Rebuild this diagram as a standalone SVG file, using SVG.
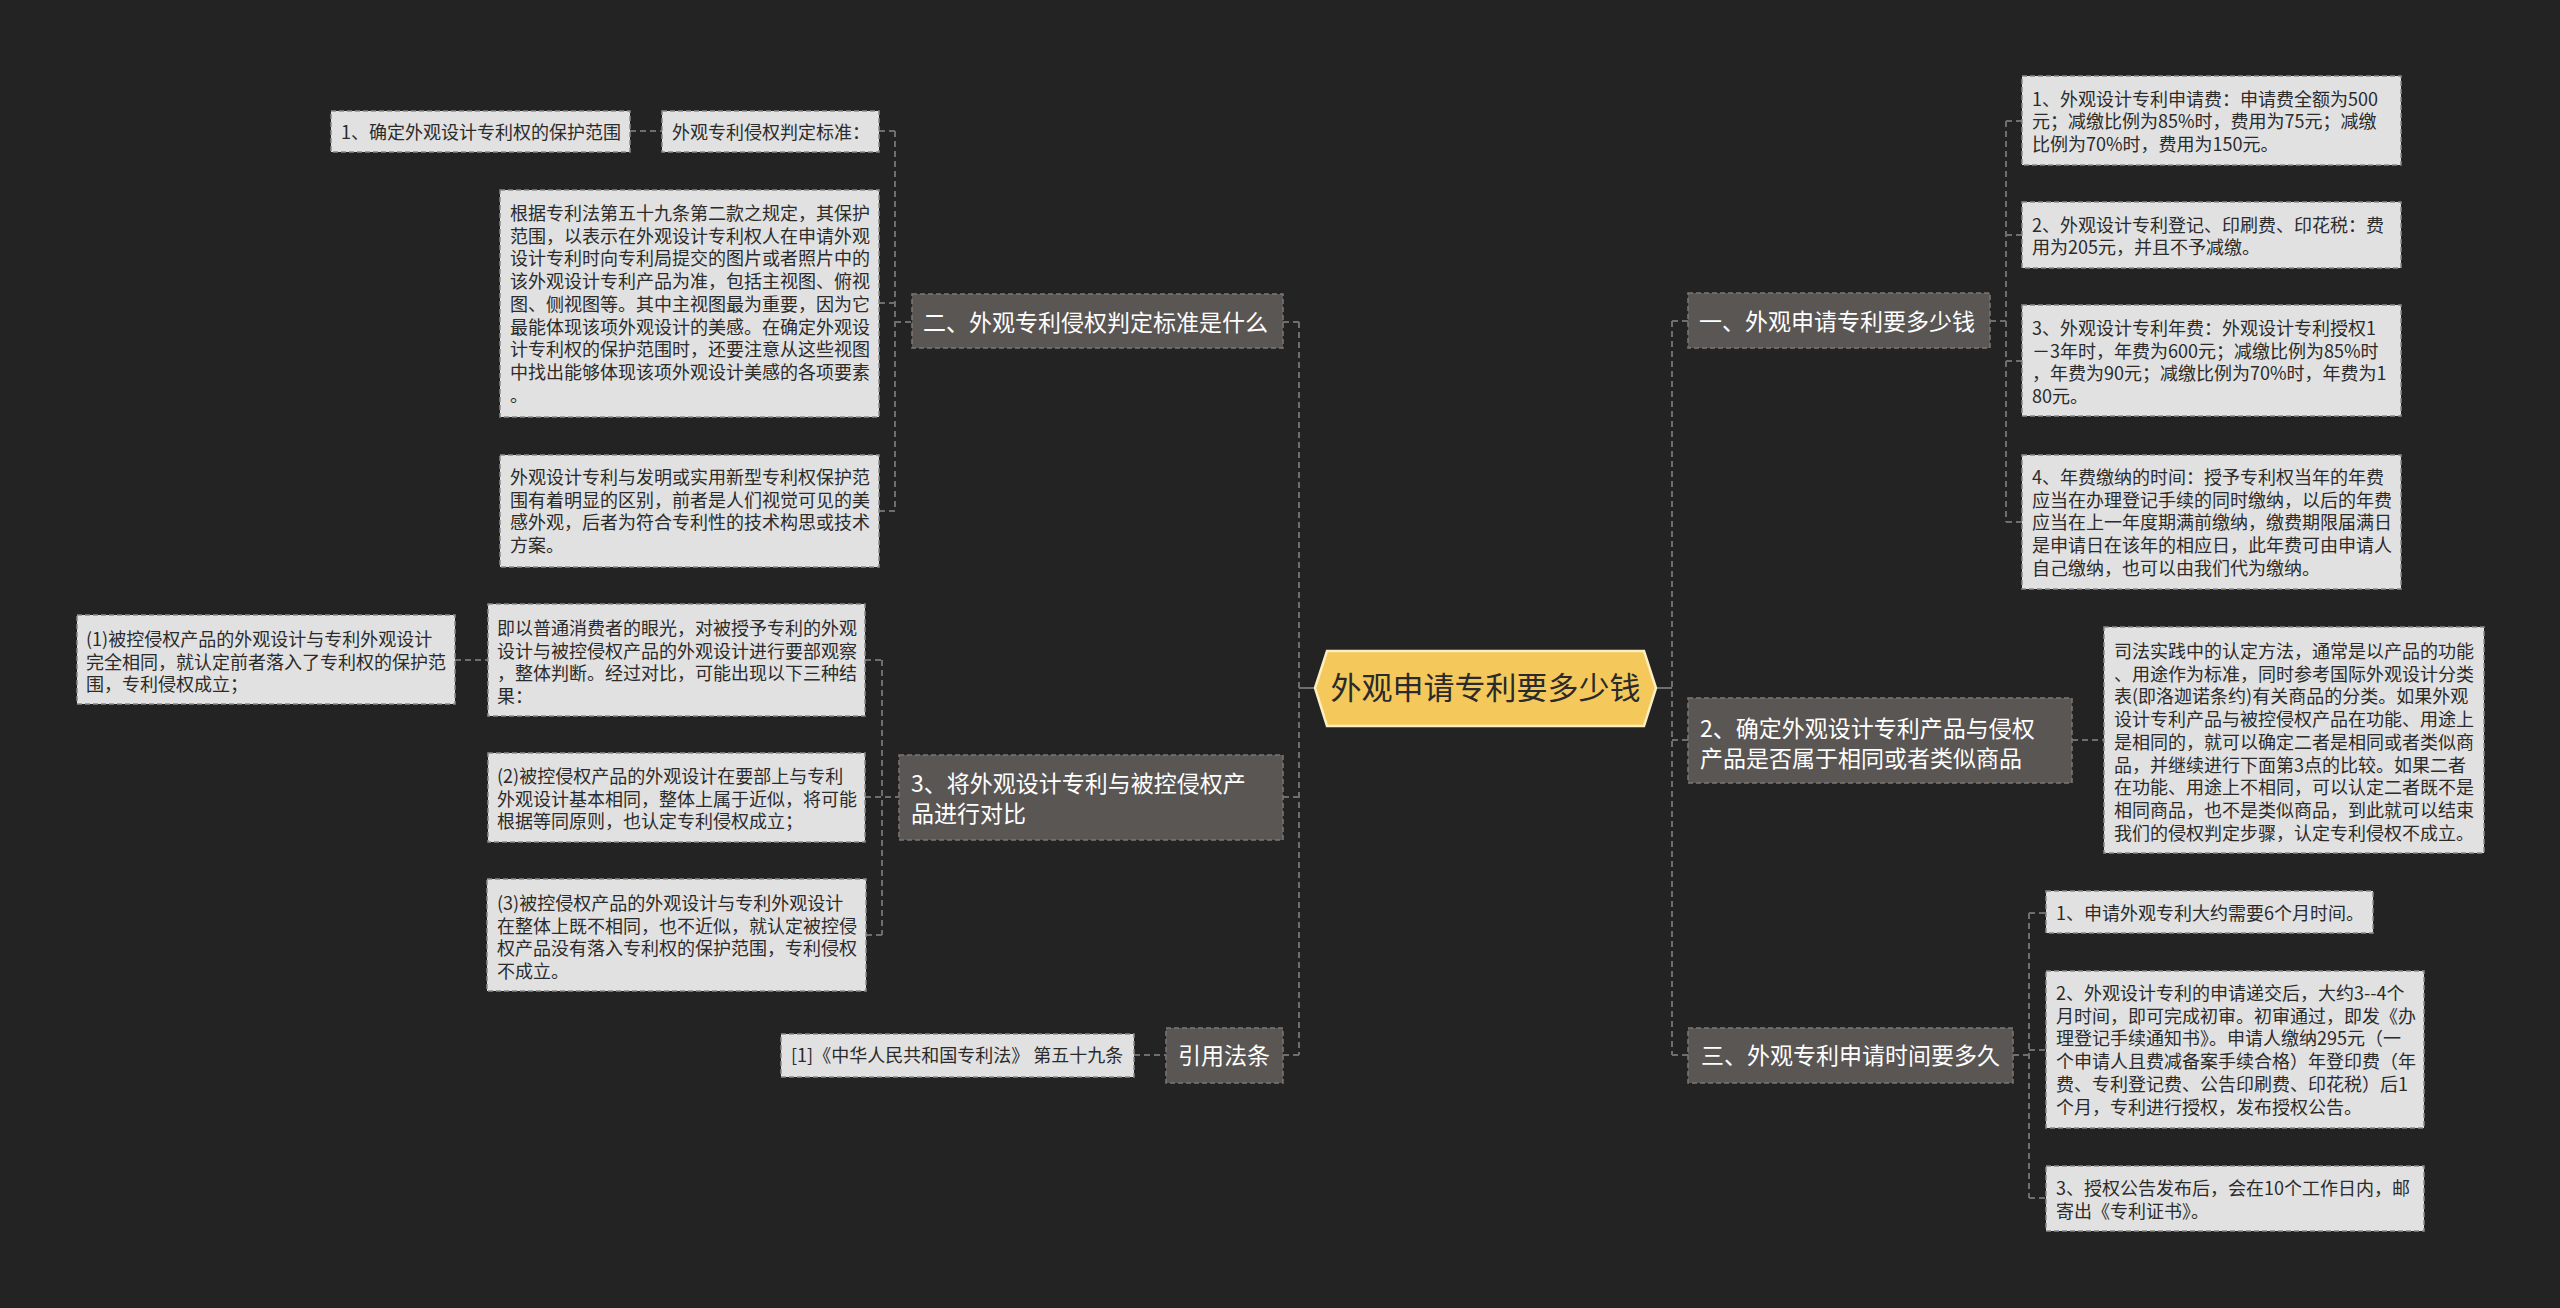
<svg xmlns="http://www.w3.org/2000/svg" width="2560" height="1308" viewBox="0 0 2560 1308">
<style>
text{font-family:"Noto Sans CJK SC","Microsoft YaHei",sans-serif}
.bg{fill:#232323}
.leaf{fill:#e1e1e1;stroke:#8a8a8a;stroke-width:1.5;stroke-dasharray:5 3}
.lt{font-size:18px;fill:#2b2b2b}
.l1{fill:#5a5654;stroke:#7c7773;stroke-width:1.5;stroke-dasharray:5 3}
.l1t{font-size:23px;fill:#ffffff}
.root{fill:#f4c85a;stroke:#fbeec0;stroke-width:2.5}
.rt{font-size:31px;fill:#2a2a2a}
.cn{fill:none;stroke:#6e6e6e;stroke-width:2;stroke-dasharray:6 4}
.cs{fill:none;stroke:#6e6e6e;stroke-width:2}
</style>
<rect class="bg" x="0" y="0" width="2560" height="1308"/>

<g id="connectors">
  <!-- root to trunks -->
  <path class="cs" d="M1315 688 H1299"/>
  <path class="cs" d="M1656 688 H1672"/>
  <!-- left trunk -->
  <path class="cn" d="M1299 322 V1055"/>
  <path class="cn" d="M1283 322 H1299 M1283 797 H1299 M1283 1055 H1299"/>
  <!-- right trunk -->
  <path class="cn" d="M1672 321 V1055"/>
  <path class="cn" d="M1672 321 H1688 M1672 740 H1688 M1672 1055 H1688"/>
  <!-- 二 children -->
  <path class="cn" d="M895 131 V511 M895 322 H912 M879 131 H895 M879 303 H895 M879 511 H895"/>
  <path class="cn" d="M630 131 H662"/>
  <!-- 3 children -->
  <path class="cn" d="M882 660 V935 M865 660 H882 M865 797 H899 M866 935 H882"/>
  <path class="cn" d="M455 660 H488"/>
  <!-- 引用法条 child -->
  <path class="cn" d="M1134 1055 H1166"/>
  <!-- 一 children -->
  <path class="cn" d="M2006 121 V522 M1990 321 H2006 M2006 121 H2022 M2006 235 H2022 M2006 361 H2022 M2006 522 H2022"/>
  <!-- 2 child -->
  <path class="cn" d="M2072 740 H2104"/>
  <!-- 三 children -->
  <path class="cn" d="M2029 913 V1198 M2013 1055 H2029 M2029 913 H2046 M2029 1050 H2046 M2029 1198 H2046"/>
</g>

<g id="root">
  <polygon class="root" points="1315,688 1327,651 1644,651 1656,688 1644,726 1327,726"/>
  <text class="rt" x="1485.5" y="699" text-anchor="middle">外观申请专利要多少钱</text>
</g>

<!-- Left side level 1 -->
<g id="n-er">
  <rect class="l1" x="912" y="294" width="371" height="54"/>
  <text class="l1t" x="923" y="330.5">二、外观专利侵权判定标准是什么</text>
</g>
<g id="n-san-compare">
  <rect class="l1" x="899" y="755" width="384" height="85"/>
  <text class="l1t" x="911" y="791.5">3、将外观设计专利与被控侵权产</text>
  <text class="l1t" x="911" y="821.5">品进行对比</text>
</g>
<g id="n-law">
  <rect class="l1" x="1166" y="1028" width="117" height="55"/>
  <text class="l1t" x="1178" y="1064">引用法条</text>
</g>

<!-- 二 children -->
<g id="n-er-1">
  <rect class="leaf" x="662" y="111" width="217" height="41"/>
  <text class="lt" x="672" y="138.5">外观专利侵权判定标准：</text>
</g>
<g id="n-er-1-1">
  <rect class="leaf" x="331" y="111" width="299" height="41"/>
  <text class="lt" x="341" y="138.5">1、确定外观设计专利权的保护范围</text>
</g>
<g id="n-er-2">
  <rect class="leaf" x="500" y="190" width="379" height="227"/>
  <text class="lt" x="510" y="220">根据专利法第五十九条第二款之规定，其保护</text>
  <text class="lt" x="510" y="242.7">范围，以表示在外观设计专利权人在申请外观</text>
  <text class="lt" x="510" y="265.4">设计专利时向专利局提交的图片或者照片中的</text>
  <text class="lt" x="510" y="288.1">该外观设计专利产品为准，包括主视图、俯视</text>
  <text class="lt" x="510" y="310.8">图、侧视图等。其中主视图最为重要，因为它</text>
  <text class="lt" x="510" y="333.5">最能体现该项外观设计的美感。在确定外观设</text>
  <text class="lt" x="510" y="356.2">计专利权的保护范围时，还要注意从这些视图</text>
  <text class="lt" x="510" y="378.9">中找出能够体现该项外观设计美感的各项要素</text>
  <text class="lt" x="510" y="401.6">。</text>
</g>
<g id="n-er-3">
  <rect class="leaf" x="500" y="455" width="379" height="112"/>
  <text class="lt" x="510" y="484">外观设计专利与发明或实用新型专利权保护范</text>
  <text class="lt" x="510" y="506.7">围有着明显的区别，前者是人们视觉可见的美</text>
  <text class="lt" x="510" y="529.4">感外观，后者为符合专利性的技术构思或技术</text>
  <text class="lt" x="510" y="552.1">方案。</text>
</g>

<!-- 3 children -->
<g id="n-cmp-1">
  <rect class="leaf" x="488" y="604" width="377" height="112"/>
  <text class="lt" x="497" y="635">即以普通消费者的眼光，对被授予专利的外观</text>
  <text class="lt" x="497" y="657.7">设计与被控侵权产品的外观设计进行要部观察</text>
  <text class="lt" x="497" y="680.4">，整体判断。经过对比，可能出现以下三种结</text>
  <text class="lt" x="497" y="703.1">果：</text>
</g>
<g id="n-cmp-1-1">
  <rect class="leaf" x="77" y="615" width="378" height="89"/>
  <text class="lt" x="86" y="646">(1)被控侵权产品的外观设计与专利外观设计</text>
  <text class="lt" x="86" y="668.7">完全相同，就认定前者落入了专利权的保护范</text>
  <text class="lt" x="86" y="691.4">围，专利侵权成立；</text>
</g>
<g id="n-cmp-2">
  <rect class="leaf" x="488" y="753" width="377" height="89"/>
  <text class="lt" x="497" y="783">(2)被控侵权产品的外观设计在要部上与专利</text>
  <text class="lt" x="497" y="805.7">外观设计基本相同，整体上属于近似，将可能</text>
  <text class="lt" x="497" y="828.4">根据等同原则，也认定专利侵权成立；</text>
</g>
<g id="n-cmp-3">
  <rect class="leaf" x="487" y="879" width="379" height="112"/>
  <text class="lt" x="497" y="910">(3)被控侵权产品的外观设计与专利外观设计</text>
  <text class="lt" x="497" y="932.7">在整体上既不相同，也不近似，就认定被控侵</text>
  <text class="lt" x="497" y="955.4">权产品没有落入专利权的保护范围，专利侵权</text>
  <text class="lt" x="497" y="978.1">不成立。</text>
</g>

<!-- law child -->
<g id="n-law-1">
  <rect class="leaf" x="781" y="1034" width="353" height="43"/>
  <text class="lt" x="791" y="1062">[1]《中华人民共和国专利法》 第五十九条</text>
</g>

<!-- Right side level 1 -->
<g id="n-yi">
  <rect class="l1" x="1688" y="293" width="302" height="55"/>
  <text class="l1t" x="1699" y="329.5">一、外观申请专利要多少钱</text>
</g>
<g id="n-same">
  <rect class="l1" x="1688" y="698" width="384" height="85"/>
  <text class="l1t" x="1700" y="736.5">2、确定外观设计专利产品与侵权</text>
  <text class="l1t" x="1700" y="766.5">产品是否属于相同或者类似商品</text>
</g>
<g id="n-san">
  <rect class="l1" x="1688" y="1028" width="325" height="55"/>
  <text class="l1t" x="1701" y="1063.5">三、外观专利申请时间要多久</text>
</g>

<!-- 一 children -->
<g id="n-yi-1">
  <rect class="leaf" x="2022" y="76" width="379" height="89"/>
  <text class="lt" x="2032" y="105.5">1、外观设计专利申请费：申请费全额为500</text>
  <text class="lt" x="2032" y="128.2">元；减缴比例为85%时，费用为75元；减缴</text>
  <text class="lt" x="2032" y="150.9">比例为70%时，费用为150元。</text>
</g>
<g id="n-yi-2">
  <rect class="leaf" x="2022" y="202" width="379" height="66"/>
  <text class="lt" x="2032" y="231.5">2、外观设计专利登记、印刷费、印花税：费</text>
  <text class="lt" x="2032" y="254.2">用为205元，并且不予减缴。</text>
</g>
<g id="n-yi-3">
  <rect class="leaf" x="2022" y="305" width="379" height="111"/>
  <text class="lt" x="2032" y="335">3、外观设计专利年费：外观设计专利授权1</text>
  <text class="lt" x="2032" y="357.7">－3年时，年费为600元；减缴比例为85%时</text>
  <text class="lt" x="2032" y="380.4">，年费为90元；减缴比例为70%时，年费为1</text>
  <text class="lt" x="2032" y="403.1">80元。</text>
</g>
<g id="n-yi-4">
  <rect class="leaf" x="2022" y="455" width="379" height="134"/>
  <text class="lt" x="2032" y="484">4、年费缴纳的时间：授予专利权当年的年费</text>
  <text class="lt" x="2032" y="506.7">应当在办理登记手续的同时缴纳，以后的年费</text>
  <text class="lt" x="2032" y="529.4">应当在上一年度期满前缴纳，缴费期限届满日</text>
  <text class="lt" x="2032" y="552.1">是申请日在该年的相应日，此年费可由申请人</text>
  <text class="lt" x="2032" y="574.8">自己缴纳，也可以由我们代为缴纳。</text>
</g>

<!-- 2 child -->
<g id="n-same-1">
  <rect class="leaf" x="2104" y="627" width="380" height="226"/>
  <text class="lt" x="2114" y="658">司法实践中的认定方法，通常是以产品的功能</text>
  <text class="lt" x="2114" y="680.7">、用途作为标准，同时参考国际外观设计分类</text>
  <text class="lt" x="2114" y="703.4">表(即洛迦诺条约)有关商品的分类。如果外观</text>
  <text class="lt" x="2114" y="726.1">设计专利产品与被控侵权产品在功能、用途上</text>
  <text class="lt" x="2114" y="748.8">是相同的，就可以确定二者是相同或者类似商</text>
  <text class="lt" x="2114" y="771.5">品，并继续进行下面第3点的比较。如果二者</text>
  <text class="lt" x="2114" y="794.2">在功能、用途上不相同，可以认定二者既不是</text>
  <text class="lt" x="2114" y="816.9">相同商品，也不是类似商品，到此就可以结束</text>
  <text class="lt" x="2114" y="839.6">我们的侵权判定步骤，认定专利侵权不成立。</text>
</g>

<!-- 三 children -->
<g id="n-san-1">
  <rect class="leaf" x="2046" y="891" width="327" height="42"/>
  <text class="lt" x="2056" y="920">1、申请外观专利大约需要6个月时间。</text>
</g>
<g id="n-san-2">
  <rect class="leaf" x="2046" y="971" width="378" height="157"/>
  <text class="lt" x="2056" y="1000">2、外观设计专利的申请递交后，大约3--4个</text>
  <text class="lt" x="2056" y="1022.7">月时间，即可完成初审。初审通过，即发《办</text>
  <text class="lt" x="2056" y="1045.4">理登记手续通知书》。申请人缴纳295元（一</text>
  <text class="lt" x="2056" y="1068.1">个申请人且费减备案手续合格）年登印费（年</text>
  <text class="lt" x="2056" y="1090.8">费、专利登记费、公告印刷费、印花税）后1</text>
  <text class="lt" x="2056" y="1113.5">个月，专利进行授权，发布授权公告。</text>
</g>
<g id="n-san-3">
  <rect class="leaf" x="2046" y="1166" width="378" height="65"/>
  <text class="lt" x="2056" y="1195">3、授权公告发布后，会在10个工作日内，邮</text>
  <text class="lt" x="2056" y="1217.7">寄出《专利证书》。</text>
</g>
</svg>
